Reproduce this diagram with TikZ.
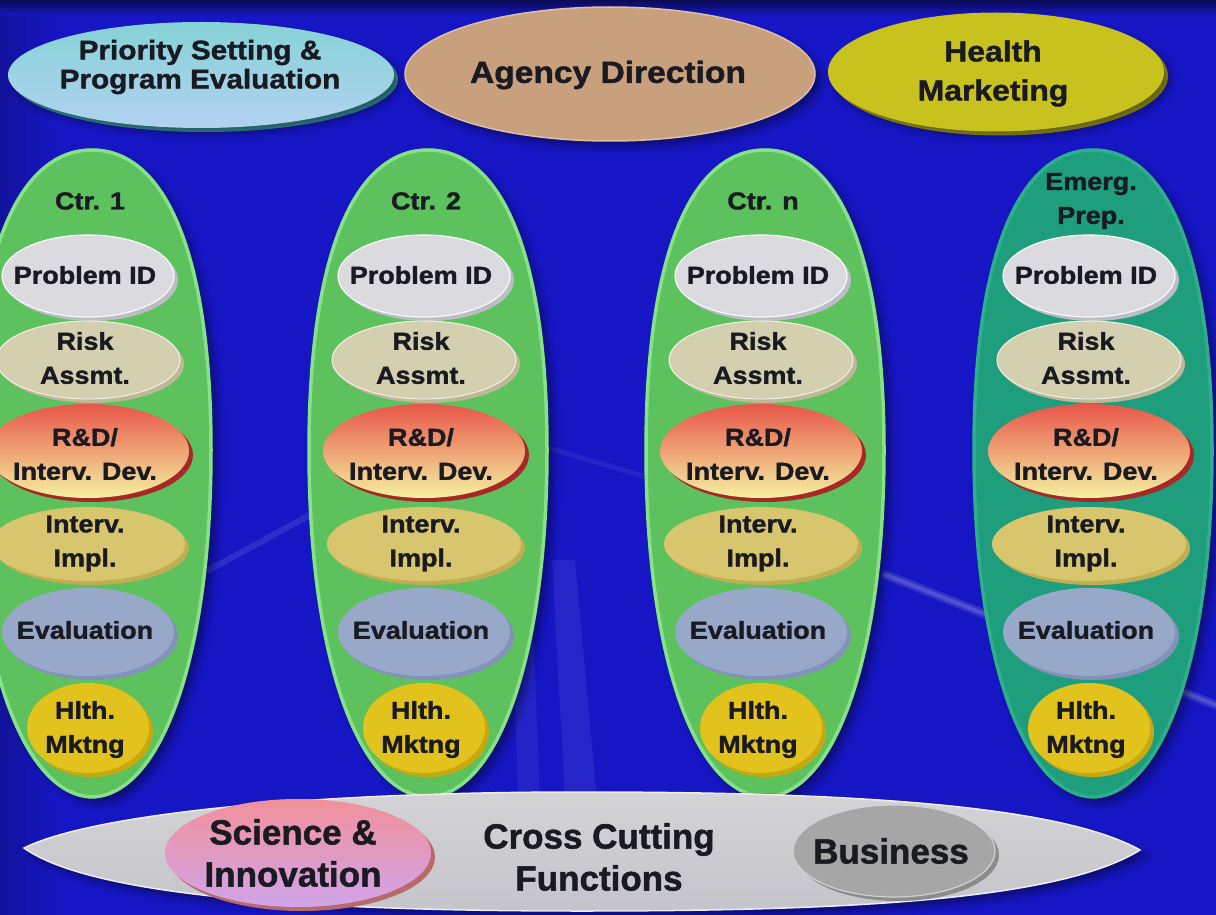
\documentclass[tikz,border=0pt]{standalone}
\usepackage{fontspec}
\setmainfont{Liberation Sans}
\newfontfamily\labfont[FakeStretch=1.1,FakeBold=1.4]{Liberation Sans}
\newfontfamily\botfont[FakeBold=1.4]{Liberation Sans}
\usetikzlibrary{shapes.geometric,shadows.blur}

\definecolor{bgblue}{HTML}{1616C4}
\definecolor{bgdark}{HTML}{0B0B55}
\definecolor{ink}{HTML}{1A1A22}
\definecolor{podgreen}{HTML}{5DC15D}
\definecolor{podedge}{HTML}{86E286}
\definecolor{podteal}{HTML}{1E9E7C}
\definecolor{tealedge}{HTML}{2DB08A}
\definecolor{pidfill}{HTML}{DADADF}
\definecolor{pidrim}{HTML}{BDBDC8}
\definecolor{riskfill}{HTML}{D4CFAE}
\definecolor{riskrim}{HTML}{BDB898}
\definecolor{rdtop}{HTML}{E8564A}
\definecolor{rdmid}{HTML}{F0A676}
\definecolor{rdbot}{HTML}{F4F0A0}
\definecolor{rdrim}{HTML}{A82828}
\definecolor{implfill}{HTML}{D8C66E}
\definecolor{implrim}{HTML}{C2AE52}
\definecolor{evalfill}{HTML}{98A8C8}
\definecolor{evalrim}{HTML}{8292B8}
\definecolor{hlthfill}{HTML}{E2C21C}
\definecolor{hlthrim}{HTML}{C8A810}
\definecolor{prtop}{HTML}{86D2D6}
\definecolor{prbot}{HTML}{B2D2F2}
\definecolor{prrim}{HTML}{3A9AA0}
\definecolor{agfill}{HTML}{C8A07E}
\definecolor{agrim}{HTML}{DCC0A6}
\definecolor{hmfill}{HTML}{C8C21E}
\definecolor{hmrim}{HTML}{A8A214}
\definecolor{ccfill}{HTML}{D4D4D6}
\definecolor{ccbot}{HTML}{C4C4CA}
\definecolor{sctop}{HTML}{F2909A}
\definecolor{scbot}{HTML}{D0A4EA}
\definecolor{scrim}{HTML}{B86A6A}
\definecolor{bufill}{HTML}{A6A6A6}
\definecolor{burim}{HTML}{8C8C8C}

% tall lens-shaped container for one centre's chain of functions
\newcommand\podshape[4]{%
  \path[fill=#3, draw=#4, line width=3.5pt,
        blur shadow={shadow xshift=6pt, shadow yshift=-6pt, shadow opacity=45, shadow blur radius=8pt}]
   ({#1-#2},450) .. controls ({#1-#2},255) and ({#1-0.62*#2},150) .. (#1,150)
   .. controls ({#1+0.62*#2},150) and ({#1+#2},255) .. ({#1+#2},450)
   .. controls ({#1+#2},658) and ({#1+0.58*#2},795) .. (#1,797)
   .. controls ({#1-0.58*#2},795) and ({#1-#2},658) .. cycle;}

\tikzset{
  item/.style args={#1/#2}{ellipse, minimum width=#1pt, minimum height=#2pt, inner sep=0pt},
  rim/.style={preaction={fill=#1, transform canvas={xshift=4pt, yshift=-4pt}}},
  soft/.style={blur shadow={shadow xshift=6pt, shadow yshift=-6pt, shadow opacity=40, shadow blur radius=7pt}},
  coltxt/.style={inner sep=0pt, align=center, text=ink,
    font=\labfont\bfseries\fontsize{24.5}{34}\selectfont},
  toptxt/.style n args={2}{inner sep=0pt, align=center, text=ink,
    font=\labfont\bfseries\fontsize{#1}{#2}\selectfont},
  bottxt/.style={inner sep=0pt, align=center, text=ink,
    font=\botfont\bfseries\fontsize{35}{42}\selectfont},
}

\begin{document}
\begin{tikzpicture}[x=1pt,y=-1pt]
\useasboundingbox (0,0) rectangle (1216,915);

% backdrop
\fill[bgblue] (0,0) rectangle (1216,915);
\shade[top color=bgdark, bottom color=bgblue] (0,0) rectangle (1216,16);
\shade[left color=bgblue!80!black, right color=bgblue] (0,16) rectangle (60,915);
% faint light streaks
\draw[line width=6pt, white, opacity=0.10, line cap=round] (205,572) -- (312,514);
\draw[line width=5pt, white, opacity=0.06, line cap=round] (548,448) -- (650,478);
\draw[line width=9pt, white, opacity=0.12, line cap=round] (886,575) -- (1216,705);
\draw[line width=4pt, white, opacity=0.15, line cap=round] (886,575) -- (1216,705);
\fill[white, opacity=0.06] (512,600) -- (532,600) -- (540,800) -- (518,800) -- cycle;
\fill[white, opacity=0.07] (552,560) -- (575,560) -- (597,800) -- (565,800) -- cycle;

% top row
\node[item=386/106, top color=prtop, bottom color=prbot, rim=prrim, soft] (prio) at (201,75) {};
\node[toptxt={27}{29}] (priot) at (200,67) {Priority Setting \&\\Program Evaluation};
\node[item=410/134, fill=agfill, draw=agrim, line width=1.5pt, soft] (agency) at (610,74) {};
\node[toptxt={30.5}{36}] (agencyt) at (608,75) {Agency Direction};
\node[item=336/119, fill=hmfill, rim=hmrim, soft] (hmkt) at (996,72) {};
\node[toptxt={29}{39}] (hmktt) at (993,73.5) {Health\\Marketing};

% the four centre columns
\foreach \cx/\nm/\lab/\fc/\ec in {92/ca/{Ctr. 1}/podgreen/podedge,
                                   428/cb/{Ctr. 2}/podgreen/podedge,
                                   765/cn/{Ctr. n}/podgreen/podedge,
                                   1093/ce/{Emerg.\\Prep.}/podteal/tealedge}{
  \podshape{\cx}{119}{\fc}{\ec}
  \pgfmathsetmacro\ix{\cx-4}
  \node[coltxt] (\nm-head) at ({\cx-2},201) {\lab};
  \node[item=172/82, fill=pidfill, draw=white!85!pidfill, line width=1.2pt, rim=pidrim] (\nm-pid) at (\ix,276) {};
  \node[coltxt] (\nm-pidt) at ({\ix-3},275) {Problem ID};
  \node[item=184/78, fill=riskfill, draw=white!70!riskfill, line width=1pt, rim=riskrim] (\nm-risk) at (\ix,360) {};
  \node[coltxt] (\nm-riskt) at ({\ix-3},358) {Risk\\Assmt.};
  \node[item=202/94, top color=rdtop, middle color=rdmid, bottom color=rdbot, rim=rdrim] (\nm-rd) at (\ix,451) {};
  \node[coltxt] (\nm-rdt) at ({\ix-3},454) {R\&D/\\Interv. Dev.};
  \node[item=194/74, fill=implfill, rim=implrim] (\nm-impl) at (\ix,544) {};
  \node[coltxt] (\nm-implt) at ({\ix-3},543.5) {Interv.\\Impl.};
  \node[item=172/88, fill=evalfill, rim=evalrim] (\nm-eval) at (\ix,632) {};
  \node[coltxt] (\nm-evalt) at ({\ix-3},630) {Evaluation};
  \node[item=122/90, fill=hlthfill, rim=hlthrim] (\nm-hlth) at (\ix,728) {};
  \node[coltxt] (\nm-hlptt) at ({\ix-3},729.5) {Hlth.\\Mktng};
}

% cross-cutting band
\path[top color=ccfill, bottom color=ccbot, draw=white!60!ccfill, line width=1.5pt, soft]
  (24,848) .. controls (90,815) and (300,792) .. (581,792)
  .. controls (850,792) and (1060,805) .. (1140,850)
  .. controls (1060,900) and (850,911) .. (581,911)
  .. controls (300,911) and (90,895) .. cycle;
\node[item=266/108, top color=sctop, bottom color=scbot, rim=scrim] (sci) at (298,853) {};
\node[bottxt] (scit) at (293,853) {Science \&\\Innovation};
\node[bottxt] (cross) at (599,857) {Cross Cutting\\Functions};
\node[item=202/92, fill=bufill, draw=white!50!bufill, line width=1.2pt, rim=burim] (biz) at (894,851) {};
\node[bottxt] (bizt) at (891,851) {Business};
\end{tikzpicture}
\end{document}
